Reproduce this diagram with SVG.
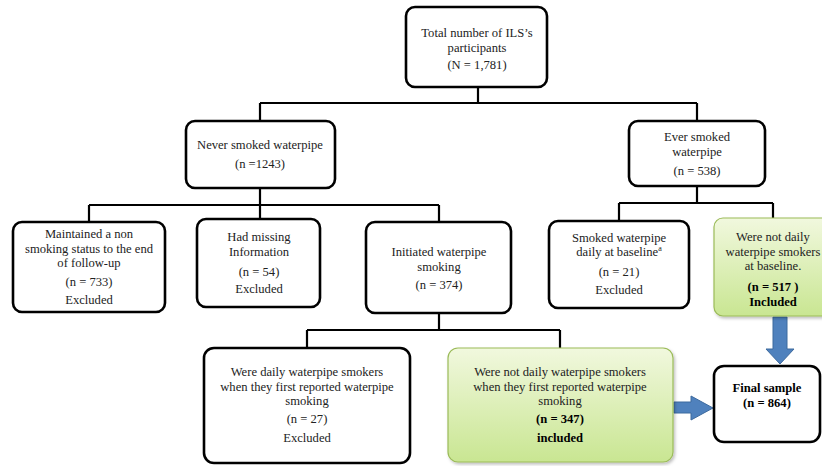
<svg xmlns="http://www.w3.org/2000/svg" width="822" height="466" viewBox="0 0 822 466">
<defs>
<linearGradient id="green" x1="0" y1="0" x2="0" y2="1">
<stop offset="0" stop-color="#f1f8de"/>
<stop offset="1" stop-color="#c9e692"/>
</linearGradient>
<filter id="shadow" x="-10%" y="-10%" width="130%" height="130%">
<feDropShadow dx="1.5" dy="2" stdDeviation="1.5" flood-color="#000" flood-opacity="0.25"/>
</filter>
<style>
.box{fill:#fff;stroke:#000;stroke-width:2.6}
.gbox{fill:url(#green);stroke:#9bbb59;stroke-width:1.2;filter:url(#shadow)}
.t{font-family:"Liberation Serif","Times New Roman",serif;font-size:12.6px;fill:#222;text-anchor:middle}
.b{font-weight:bold;fill:#000}
.c{fill:none;stroke:#000;stroke-width:2.2}
.arrow{fill:#4f81bd;stroke:#3d6a9e;stroke-width:1}
</style>
</defs>
<rect width="822" height="466" fill="#fff"/>
<g id="connectors">
<path class="c" d="M478 87 V103 M260 103 H697 M260 103 V121 M697 103 V121"/>
<path class="c" d="M260 188 V205 M89 205 H439 M89 205 V222 M260 205 V219 M439 205 V222"/>
<path class="c" d="M697 186 V203 M619 203 H773 M619 203 V221 M773 203 V218"/>
<path class="c" d="M439 313 V330 M307 330 H560 M307 330 V348 M560 330 V348"/>
<path class="arrow" d="M773 317 H787 V349 H794 L780 364 L766 349 H773 Z"/>
<path class="arrow" d="M674 402 H691 V396 L713 408 L691 420 V413 H674 Z"/>
</g>
<g id="total">
<rect class="box" x="406" y="7" width="141" height="80" rx="9"/>
<text class="t" x="477" y="37">Total number of ILS’s</text>
<text class="t" x="477" y="51.5">participants</text>
<text class="t" x="477" y="69">(N = 1,781)</text>
</g>
<g id="never">
<rect class="box" x="186" y="121" width="149" height="67" rx="9"/>
<text class="t" x="260" y="149">Never smoked waterpipe</text>
<text class="t" x="260" y="168">(n =1243)</text>
</g>
<g id="ever">
<rect class="box" x="629" y="121" width="136" height="65" rx="9"/>
<text class="t" x="697" y="141">Ever smoked</text>
<text class="t" x="697" y="155.5">waterpipe</text>
<text class="t" x="697" y="175">(n = 538)</text>
</g>
<g id="maintained">
<rect class="box" x="13" y="222" width="152" height="90" rx="9"/>
<text class="t" x="89" y="238">Maintained a non</text>
<text class="t" x="89" y="252.5">smoking status to the end</text>
<text class="t" x="89" y="267">of follow-up</text>
<text class="t" x="89" y="286">(n = 733)</text>
<text class="t" x="89" y="304">Excluded</text>
</g>
<g id="missing">
<rect class="box" x="197" y="219" width="123" height="88" rx="9"/>
<text class="t" x="259" y="241">Had missing</text>
<text class="t" x="259" y="255.5">Information</text>
<text class="t" x="259" y="276">(n = 54)</text>
<text class="t" x="259" y="293">Excluded</text>
</g>
<g id="initiated">
<rect class="box" x="366" y="222" width="145" height="91" rx="9"/>
<text class="t" x="439" y="256">Initiated waterpipe</text>
<text class="t" x="439" y="270.5">smoking</text>
<text class="t" x="439" y="289">(n = 374)</text>
</g>
<g id="daily-baseline">
<rect class="box" x="549" y="221" width="140" height="87" rx="9"/>
<text class="t" x="619" y="241.5">Smoked waterpipe</text>
<text class="t" x="619" y="256">daily at baseline<tspan font-size="8" dy="-5">a</tspan></text>
<text class="t" x="619" y="276">(n = 21)</text>
<text class="t" x="619" y="294">Excluded</text>
</g>
<g id="not-daily-baseline">
<rect class="gbox" x="714" y="218" width="119" height="98" rx="9"/>
<text class="t" x="773" y="241">Were not daily</text>
<text class="t" x="773" y="255.5">waterpipe smokers</text>
<text class="t" x="773" y="270">at baseline.</text>
<text class="t b" x="773" y="291">(n = 517 )</text>
<text class="t b" x="773" y="306">Included</text>
</g>
<g id="daily-first">
<rect class="box" x="204" y="348" width="206" height="115" rx="10"/>
<text class="t" x="307" y="376">Were daily waterpipe smokers</text>
<text class="t" x="307" y="390.5">when they first reported waterpipe</text>
<text class="t" x="307" y="405">smoking</text>
<text class="t" x="307" y="423">(n = 27)</text>
<text class="t" x="307" y="442">Excluded</text>
</g>
<g id="not-daily-first">
<rect class="gbox" x="448" y="348" width="225" height="114" rx="10"/>
<text class="t" x="560" y="376">Were not daily waterpipe smokers</text>
<text class="t" x="560" y="390.5">when they first reported waterpipe</text>
<text class="t" x="560" y="405">smoking</text>
<text class="t b" x="560" y="423">(n = 347)</text>
<text class="t b" x="560" y="442">included</text>
</g>
<g id="final">
<rect class="box" x="714" y="366" width="106" height="76" rx="10"/>
<text class="t b" x="767" y="392">Final sample</text>
<text class="t b" x="767" y="407">(n = 864)</text>
</g>
</svg>
